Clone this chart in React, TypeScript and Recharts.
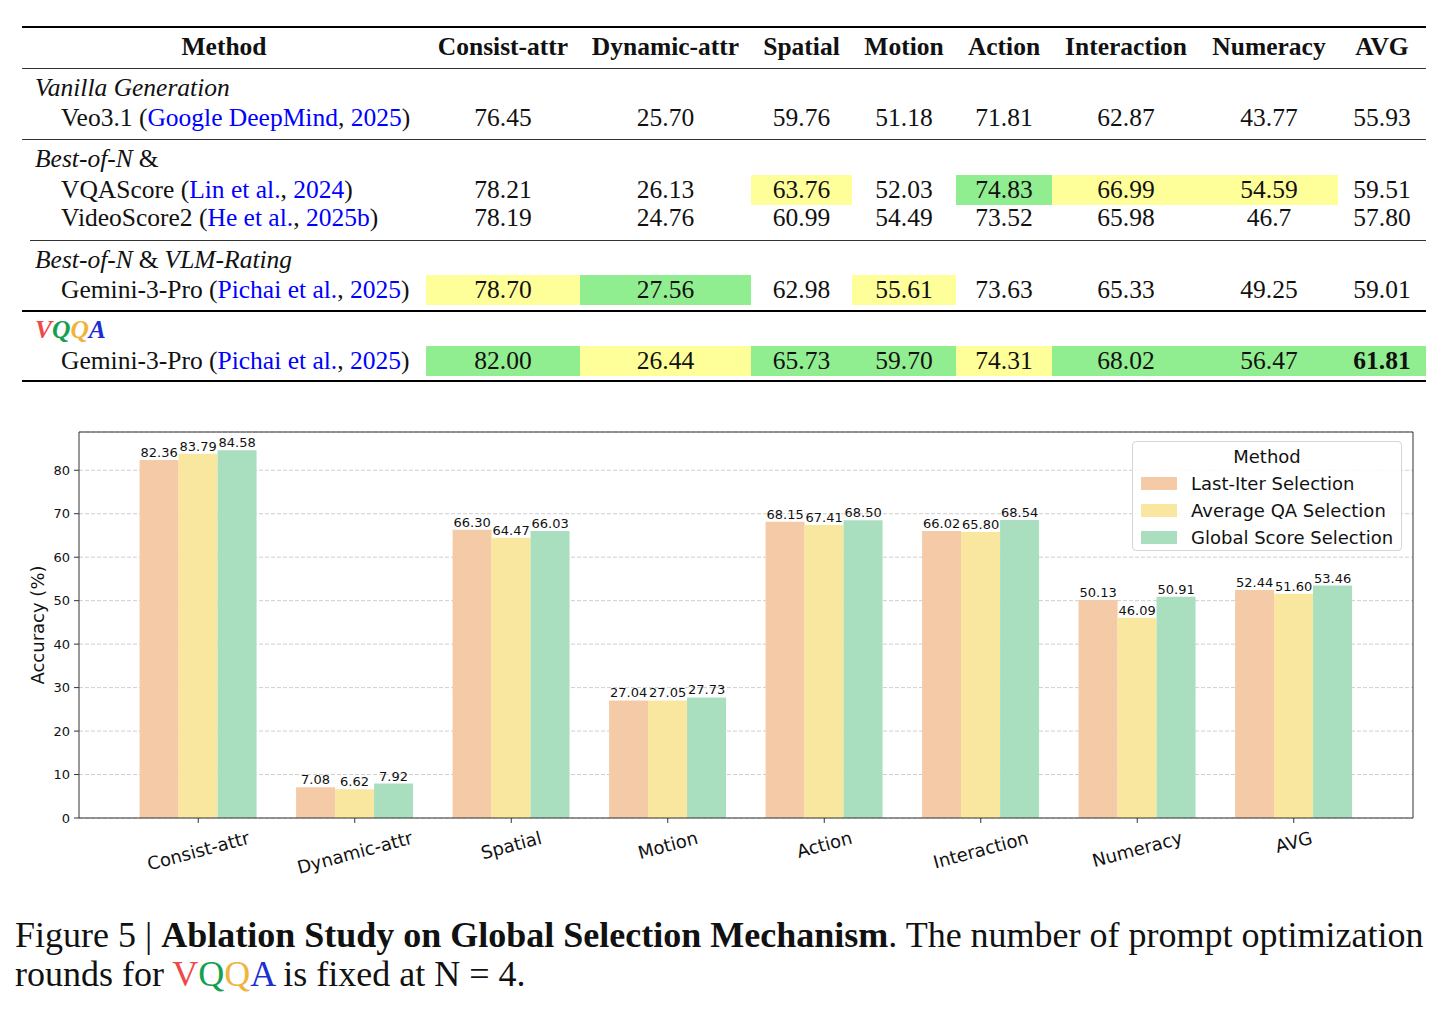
import React from 'react';
import { BarChart, Bar, XAxis, YAxis, CartesianGrid, LabelList, Legend } from 'recharts';

// ---- bar chart data ----
const CATEGORIES = ['Consist-attr', 'Dynamic-attr', 'Spatial', 'Motion', 'Action', 'Interaction', 'Numeracy', 'AVG'];
const LAST_ITER = [82.36, 7.08, 66.3, 27.04, 68.15, 66.02, 50.13, 52.44];
const AVG_QA = [83.79, 6.62, 64.47, 27.05, 67.41, 65.8, 46.09, 51.6];
const GLOBAL_SCORE = [84.58, 7.92, 66.03, 27.73, 68.5, 68.54, 50.91, 53.46];
const Y_TICKS = [0, 10, 20, 30, 40, 50, 60, 70, 80];

const SERIES = [
  { key: 'last', name: 'Last-Iter Selection', color: '#F5CBA7', values: LAST_ITER },
  { key: 'avg', name: 'Average QA Selection', color: '#F9E79F', values: AVG_QA },
  { key: 'global', name: 'Global Score Selection', color: '#A9DFBF', values: GLOBAL_SCORE },
];

// ---- table data ----
const VEO = ['76.45', '25.70', '59.76', '51.18', '71.81', '62.87', '43.77', '55.93'];
const VQASCORE = ['78.21', '26.13', '63.76', '52.03', '74.83', '66.99', '54.59', '59.51'];
const VIDEOSCORE2 = ['78.19', '24.76', '60.99', '54.49', '73.52', '65.98', '46.7', '57.80'];
const GEMINI_RATING = ['78.70', '27.56', '62.98', '55.61', '73.63', '65.33', '49.25', '59.01'];
const GEMINI_VQQA = ['82.00', '26.44', '65.73', '59.70', '74.31', '68.02', '56.47', '61.81'];

// y = best (green), s = second (yellow)
const VQASCORE_MARKS = ['', '', 's', '', 'y', 's', 's', ''];
const VIDEOSCORE2_MARKS = ['', '', '', '', '', '', '', ''];
const GEMINI_RATING_MARKS = ['s', 'y', '', 's', '', '', '', ''];
const GEMINI_VQQA_MARKS = ['y', 's', 'y', 'y', 's', 'y', 'y', 'y'];
const VEO_MARKS = ['', '', '', '', '', '', '', ''];

const chartData = CATEGORIES.map((name, i) => ({
  name,
  last: LAST_ITER[i],
  avg: AVG_QA[i],
  global: GLOBAL_SCORE[i],
}));

const SERIF = '"Liberation Serif", "Times New Roman", serif';
const SANS = '"DejaVu Sans", sans-serif';
const BLUE = '#0000ff';
const GREEN_BG = '#90EE90';
const YELLOW_BG = '#FFFF99';

// column edges of the table, left to right
const COL_EDGES = [22, 426, 580, 751, 852, 956, 1052, 1200, 1338, 1426];

const Vqqa = ({ italic, bold }: { italic?: boolean; bold?: boolean }) => (
  <span style={{ fontStyle: italic ? 'italic' : 'normal', fontWeight: bold ? 700 : 400 }}>
    <span style={{ color: '#F04848' }}>V</span>
    <span style={{ color: '#14A050' }}>Q</span>
    <span style={{ color: '#F0B43C' }}>Q</span>
    <span style={{ color: '#1C2FD0' }}>A</span>
  </span>
);

const Amp = () => <span style={{ fontStyle: 'normal', margin: '0 6px' }}>&amp;</span>;

const Rule = ({ y, x1 = 22, thick = false }: { y: number; x1?: number; thick?: boolean }) => (
  <div
    style={{
      position: 'absolute',
      left: x1,
      top: y - (thick ? 1 : 0.5),
      width: 1426 - x1,
      height: thick ? 2 : 1,
      background: thick ? '#000' : '#333',
    }}
  />
);

const GroupLabel = ({ y, children }: { y: number; children: React.ReactNode }) => (
  <div
    style={{
      position: 'absolute',
      left: 35,
      top: y - 15,
      height: 30,
      lineHeight: '30px',
      fontStyle: 'italic',
      whiteSpace: 'nowrap',
    }}
  >
    {children}
  </div>
);

const DataRow = ({
  y,
  label,
  values,
  marks,
  boldLast = false,
}: {
  y: number;
  label: React.ReactNode;
  values: string[];
  marks: string[];
  boldLast?: boolean;
}) => (
  <>
    <div
      style={{ position: 'absolute', left: 61, top: y - 15, height: 30, lineHeight: '30px', whiteSpace: 'nowrap' }}
    >
      {label}
    </div>
    {values.map((v, i) => (
      <div
        key={i}
        style={{
          position: 'absolute',
          left: COL_EDGES[i + 1],
          width: COL_EDGES[i + 2] - COL_EDGES[i + 1],
          top: y - 15,
          height: 30,
          lineHeight: '30px',
          textAlign: 'center',
          background: marks[i] === 'y' ? GREEN_BG : marks[i] === 's' ? YELLOW_BG : 'transparent',
          fontWeight: boldLast && i === values.length - 1 ? 700 : 400,
        }}
      >
        {v}
      </div>
    ))}
  </>
);

const Cite = ({ who, year }: { who: string; year: string }) => (
  <>
    (<span style={{ color: BLUE }}>{who}</span>, <span style={{ color: BLUE }}>{year}</span>)
  </>
);

const ResultsTable = () => (
  <div style={{ position: 'absolute', left: 0, top: 0, width: 1444, height: 400, fontFamily: SERIF, fontSize: 25.5, color: '#111' }}>
    <Rule y={27} thick />
    {/* header */}
    <div
      style={{
        position: 'absolute',
        left: COL_EDGES[0],
        width: COL_EDGES[1] - COL_EDGES[0],
        top: 32,
        height: 30,
        lineHeight: '30px',
        textAlign: 'center',
        fontWeight: 700,
      }}
    >
      Method
    </div>
    {CATEGORIES.map((c, i) => (
      <div
        key={c}
        style={{
          position: 'absolute',
          left: COL_EDGES[i + 1],
          width: COL_EDGES[i + 2] - COL_EDGES[i + 1],
          top: 32,
          height: 30,
          lineHeight: '30px',
          textAlign: 'center',
          fontWeight: 700,
          whiteSpace: 'nowrap',
        }}
      >
        {c}
      </div>
    ))}
    <Rule y={68} />

    <GroupLabel y={88}>Vanilla Generation</GroupLabel>
    <DataRow y={118} label={<>Veo3.1 <Cite who="Google DeepMind" year="2025" /></>} values={VEO} marks={VEO_MARKS} />
    <Rule y={139} />

    <GroupLabel y={159}>
      Best-of-N<Amp />
    </GroupLabel>
    <DataRow y={190} label={<>VQAScore <Cite who="Lin et al." year="2024" /></>} values={VQASCORE} marks={VQASCORE_MARKS} />
    <DataRow
      y={218}
      label={<>VideoScore2 <Cite who="He et al." year="2025b" /></>}
      values={VIDEOSCORE2}
      marks={VIDEOSCORE2_MARKS}
    />
    <Rule y={240} x1={30} />

    <GroupLabel y={260}>
      Best-of-N<Amp />VLM-Rating
    </GroupLabel>
    <DataRow
      y={290}
      label={<>Gemini-3-Pro <Cite who="Pichai et al." year="2025" /></>}
      values={GEMINI_RATING}
      marks={GEMINI_RATING_MARKS}
    />
    <Rule y={311} thick />

    <GroupLabel y={330}>
      <Vqqa italic bold />
    </GroupLabel>
    <DataRow
      y={361}
      label={<>Gemini-3-Pro <Cite who="Pichai et al." year="2025" /></>}
      values={GEMINI_VQQA}
      marks={GEMINI_VQQA_MARKS}
      boldLast
    />
    <Rule y={381} thick />
  </div>
);

// text width helper for the rotated category labels
const measureCtx = typeof document !== 'undefined' ? document.createElement('canvas').getContext('2d') : null;
const textWidth = (s: string, font: string) => {
  if (!measureCtx) return s.length * 10;
  measureCtx.font = font;
  return measureCtx.measureText(s).width;
};

const ROT = 15;
const TICK_FONT = 18;

const AngledTick = (props: any) => {
  const { x, y, payload } = props;
  const w = textWidth(payload.value, `${TICK_FONT}px "DejaVu Sans"`);
  const rad = (ROT * Math.PI) / 180;
  const h = w * Math.sin(rad) + TICK_FONT * 1.16 * Math.cos(rad);
  const cy = y + 2 + h / 2;
  return (
    <text
      x={x}
      y={cy}
      textAnchor="middle"
      dominantBaseline="central"
      transform={`rotate(-${ROT} ${x} ${cy})`}
      fontSize={TICK_FONT}
      fontFamily={SANS}
      fill="#111"
    >
      {payload.value}
    </text>
  );
};

const LegendBox = () => (
  <div
    style={{
      width: 270,
      height: 110,
      boxSizing: 'border-box',
      border: '1px solid #d6d6d6',
      borderRadius: 4,
      background: 'rgba(255,255,255,0.85)',
      fontFamily: SANS,
      fontSize: 18,
      color: '#111',
      paddingTop: 1,
    }}
  >
    <div style={{ textAlign: 'center', height: 27, lineHeight: '27px' }}>Method</div>
    {SERIES.map((s) => (
      <div key={s.key} style={{ display: 'flex', alignItems: 'center', height: 27 }}>
        <div style={{ width: 36, height: 13, marginLeft: 8, marginRight: 14, background: s.color }} />
        <span style={{ lineHeight: '27px' }}>{s.name}</span>
      </div>
    ))}
  </div>
);

const AblationChart = () => (
  <div style={{ position: 'absolute', left: 0, top: 420, width: 1444, height: 480 }}>
    <BarChart
      width={1444}
      height={480}
      data={chartData}
      margin={{ top: 11, right: 30, bottom: 12, left: 0 }}
      barCategoryGap="12.5%"
      barGap={0}
    >
      <CartesianGrid vertical={false} stroke="#cfcfcf" strokeDasharray="4 2" />
      <XAxis
        dataKey="name"
        height={70}
        padding={{ left: 41, right: 41 }}
        tickSize={5}
        tickMargin={2}
        axisLine={{ stroke: '#333' }}
        tickLine={{ stroke: '#333' }}
        tick={<AngledTick />}
        interval={0}
      />
      <XAxis
        xAxisId="top"
        orientation="top"
        dataKey="name"
        height={1}
        padding={{ left: 41, right: 41 }}
        tick={false}
        tickLine={false}
        axisLine={{ stroke: '#333' }}
      />
      <YAxis
        width={79}
        domain={[0, 88.8]}
        ticks={Y_TICKS}
        tickSize={5}
        tickMargin={4}
        axisLine={{ stroke: '#333' }}
        tickLine={{ stroke: '#333' }}
        tick={{ fontSize: 13, fontFamily: SANS, fill: '#111' }}
        label={{
          value: 'Accuracy (%)',
          angle: -90,
          position: 'insideLeft',
          offset: 38,
          style: { textAnchor: 'middle', fontSize: 18, fontFamily: SANS, fill: '#111' },
        }}
      />
      <YAxis
        yAxisId="right"
        orientation="right"
        width={1}
        domain={[0, 88.8]}
        tick={false}
        tickLine={false}
        axisLine={{ stroke: '#333' }}
      />
      <Legend
        layout="vertical"
        align="center"
        verticalAlign="middle"
        wrapperStyle={{ position: 'absolute', left: 1132, top: 21, width: 272 }}
        content={() => <LegendBox />}
      />
      {SERIES.map((s) => (
        <Bar key={s.key} dataKey={s.key} name={s.name} fill={s.color} isAnimationActive={false}>
          <LabelList
            dataKey={s.key}
            position="top"
            offset={3}
            formatter={(v: any) => Number(v).toFixed(2)}
            style={{ fontSize: 13, fontFamily: SANS, fill: '#111' }}
          />
        </Bar>
      ))}
    </BarChart>
  </div>
);

const Caption = () => (
  <div
    style={{
      position: 'absolute',
      left: 15,
      top: 916,
      width: 1425,
      fontFamily: SERIF,
      fontSize: 36,
      lineHeight: '39px',
      color: '#111',
      whiteSpace: 'nowrap',
    }}
  >
    <div>
      Figure 5 | <b>Ablation Study on Global Selection Mechanism</b>. The number of prompt optimization
    </div>
    <div>
      rounds for <Vqqa /> is fixed at N = 4.
    </div>
  </div>
);

export default function App() {
  return (
    <div style={{ position: 'absolute', left: 0, top: 0, width: 1444, height: 1011, background: '#fff', overflow: 'hidden' }}>
      <ResultsTable />
      <AblationChart />
      <Caption />
    </div>
  );
}
